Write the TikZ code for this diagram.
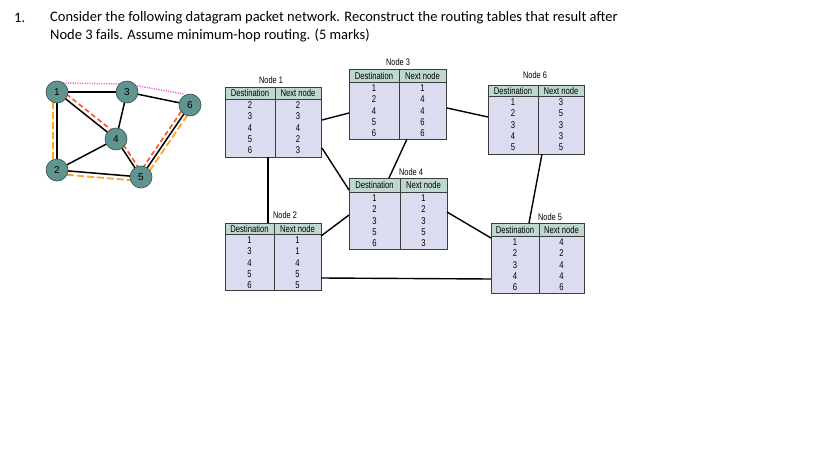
\documentclass[tikz,border=0pt]{standalone}
\usepackage{fontspec}
\setmainfont{Carlito}
\newfontfamily\narrow[FakeStretch=0.78]{Liberation Sans}
\newfontfamily\gfont{Liberation Sans}
\definecolor{gfill}{RGB}{96,148,143}
\definecolor{gdraw}{RGB}{50,80,78}
\definecolor{hdrcol}{RGB}{190,216,208}
\definecolor{bodycol}{RGB}{220,220,240}
\definecolor{tline}{RGB}{60,60,60}
\definecolor{pinkc}{RGB}{255,100,210}
\definecolor{redc}{RGB}{255,80,40}
\definecolor{orangec}{RGB}{255,165,40}
\tikzset{
  gnode/.style={circle,fill=gfill,draw=gdraw,line width=0.6pt,minimum size=22pt,inner sep=0pt,font=\gfont\fontsize{10}{10}\selectfont},
  gedge/.style={line width=1.5pt,black},
  tblbox/.style={draw=tline,line width=0.9pt,inner sep=0pt,outer sep=0pt},
  tblline/.style={draw=tline,line width=0.9pt},
  hdr/.style={font=\narrow\fontsize{9.8}{9.8}\selectfont,inner sep=0pt},
  cell/.style={font=\narrow\fontsize{9.8}{9.8}\selectfont,inner sep=0pt},
  tlabel/.style={font=\narrow\fontsize{9.5}{9.5}\selectfont,inner sep=0pt},
  conn/.style={line width=1.4pt,black},
  pinkpath/.style={pinkc,line width=1.5pt,dash pattern=on 1.2pt off 1.2pt},
  redpath/.style={redc,line width=1.6pt,dash pattern=on 5pt off 3pt},
  orangepath/.style={orangec,line width=1.8pt,dash pattern=on 7pt off 3pt},
}
% name, x, top, width, header h, body h, divider, dests, nexts
\newcommand{\rtable}[9]{%
  \fill[hdrcol] (#2,#3) rectangle ++(#4,#5);
  \fill[bodycol] (#2,{#3+#5}) rectangle ++(#4,#6);
  \draw[tblline] (#2,{#3+#5}) -- ++(#4,0);
  \draw[tblline] ({#2+#7},#3) -- ++(0,{#5+#6});
  \node[tblbox,minimum width=#4pt,minimum height={#5pt+#6pt},anchor=north west] (#1) at (#2,#3) {};
  \node[hdr] (#1hd) at ({#2+#7/2},{#3+#5/2}) {Destination};
  \node[hdr] (#1hn) at ({#2+(#7+#4)/2},{#3+#5/2}) {Next node};
  \foreach \v [count=\i] in {#8}
    \node[cell] (#1d\i) at ({#2+#7/2},{#3+#5+6+(\i-1)*11.4}) {\v};
  \foreach \v [count=\i] in {#9}
    \node[cell] (#1n\i) at ({#2+(#7+#4)/2},{#3+#5+6+(\i-1)*11.4}) {\v};
}
\begin{document}
\begin{tikzpicture}[x=1pt,y=-1pt]
\useasboundingbox (0,0) rectangle (819,460);
\fill[white] (0,0) rectangle (819,460);

% heading
\node[anchor=west,inner sep=0pt,font=\fontsize{14.5}{14.5}\selectfont] (num) at (14,18) {1.};
\node[anchor=west,inner sep=0pt,font=\fontsize{14.5}{14.5}\selectfont] (q1) at (50,18) {Consider the following datagram packet network. Reconstruct the routing tables that result after};
\node[anchor=west,inner sep=0pt,font=\fontsize{14.5}{14.5}\selectfont] (q2) at (50,35) {Node 3 fails. Assume minimum-hop routing. (5 marks)};

% graph
\coordinate (p1) at (57,92);
\coordinate (p3) at (127,92);
\coordinate (p6) at (190,105);
\coordinate (p4) at (116,139);
\coordinate (p2) at (57,170);
\coordinate (p5) at (141,177);
\draw[gedge] (p1) -- (p3);
\draw[gedge] (p1) -- (p4);
\draw[gedge] (p1) -- (p2);
\draw[gedge] (p3) -- (p4);
\draw[gedge] (p3) -- (p6);
\draw[gedge] (p4) -- (p2);
\draw[gedge] (p4) -- (p5);
\draw[gedge] (p2) -- (p5);
\draw[gedge] (p5) -- (p6);
% highlighted paths
\draw[pinkpath] ([shift={(6,-9)}]p1) -- ([shift={(0,-8)}]p3) -- ([shift={(-6,-11)}]p6);
\draw[redpath] ([shift={(3,-3)}]p1) -- ([shift={(3,-3)}]p4);
\draw[redpath] ([shift={(3,-1)}]p4) -- ([shift={(3,-1)}]p5);
\draw[redpath] ([shift={(-3,-2)}]p5) -- ([shift={(-3,-2)}]p6);
\draw[orangepath] ([shift={(-4,0)}]p1) -- ([shift={(-4,0)}]p2);
\draw[orangepath] ([shift={(0,4)}]p2) -- ([shift={(0,4)}]p5);
\draw[orangepath] ([shift={(3,2)}]p5) -- ([shift={(3,2)}]p6);
\node[gnode] (g1) at (p1) {1};
\node[gnode] (g3) at (p3) {3};
\node[gnode] (g6) at (p6) {6};
\node[gnode] (g4) at (p4) {4};
\node[gnode] (g2) at (p2) {2};
\node[gnode] (g5) at (p5) {5};

% tables
\rtable{t1}{225}{87}{96}{12}{58}{50}{2,3,4,5,6}{2,3,4,2,3}
\rtable{t3}{349}{69}{97}{13}{57}{50}{1,2,4,5,6}{1,4,4,6,6}
\rtable{t6}{488}{85}{96}{11}{58}{50}{1,2,3,4,5}{3,5,3,3,5}
\rtable{t4}{349}{178}{98}{14}{57}{51}{1,2,3,5,6}{1,2,3,5,3}
\rtable{t2}{225}{223}{96}{11}{56}{49}{1,3,4,5,6}{1,1,4,5,5}
\rtable{t5}{491}{223}{93}{13}{57}{48}{1,2,3,4,6}{4,2,4,4,6}

\node[tlabel] (l1) at (271,80) {Node 1};
\node[tlabel] (l3) at (398,62) {Node 3};
\node[tlabel] (l6) at (535,75) {Node 6};
\node[tlabel] (l4) at (411,172) {Node 4};
\node[tlabel] (l2) at (285,215) {Node 2};
\node[tlabel] (l5) at (550,217) {Node 5};

% connectors
\path (t1.north east) ++(1,33) coordinate (a13);
\path (t3.north west) ++(0,44) coordinate (b13);
\draw[conn] (a13) -- (b13);
\path (t1.north east) ++(1,61) coordinate (a14);
\path (t4.north west) ++(0,12) coordinate (b14);
\draw[conn] (a14) -- (b14);
\path (t1.south west) ++(43,0) coordinate (a12);
\path (t2.north west) ++(43,0) coordinate (b12);
\draw[conn] (a12) -- (b12);
\path (t3.south west) ++(58,0) coordinate (a34);
\path (t4.north west) ++(40,0) coordinate (b34);
\draw[conn] (a34) -- (b34);
\path (t3.north east) ++(1,39) coordinate (a36);
\path (t6.north west) ++(0,32) coordinate (b36);
\draw[conn] (a36) -- (b36);
\path (t4.north west) ++(0,37) coordinate (a42);
\path (t2.north east) ++(0,13) coordinate (b42);
\draw[conn] (a42) -- (b42);
\path (t4.north east) ++(0,34) coordinate (a45);
\path (t5.north west) ++(0,15) coordinate (b45);
\draw[conn] (a45) -- (b45);
\path (t2.north east) ++(0,55) coordinate (a25);
\path (t5.north west) ++(0,56) coordinate (b25);
\draw[conn] (a25) -- (b25);
\path (t6.south west) ++(54,0) coordinate (a65);
\path (t5.north west) ++(38,0) coordinate (b65);
\draw[conn] (a65) -- (b65);
\end{tikzpicture}
\end{document}
